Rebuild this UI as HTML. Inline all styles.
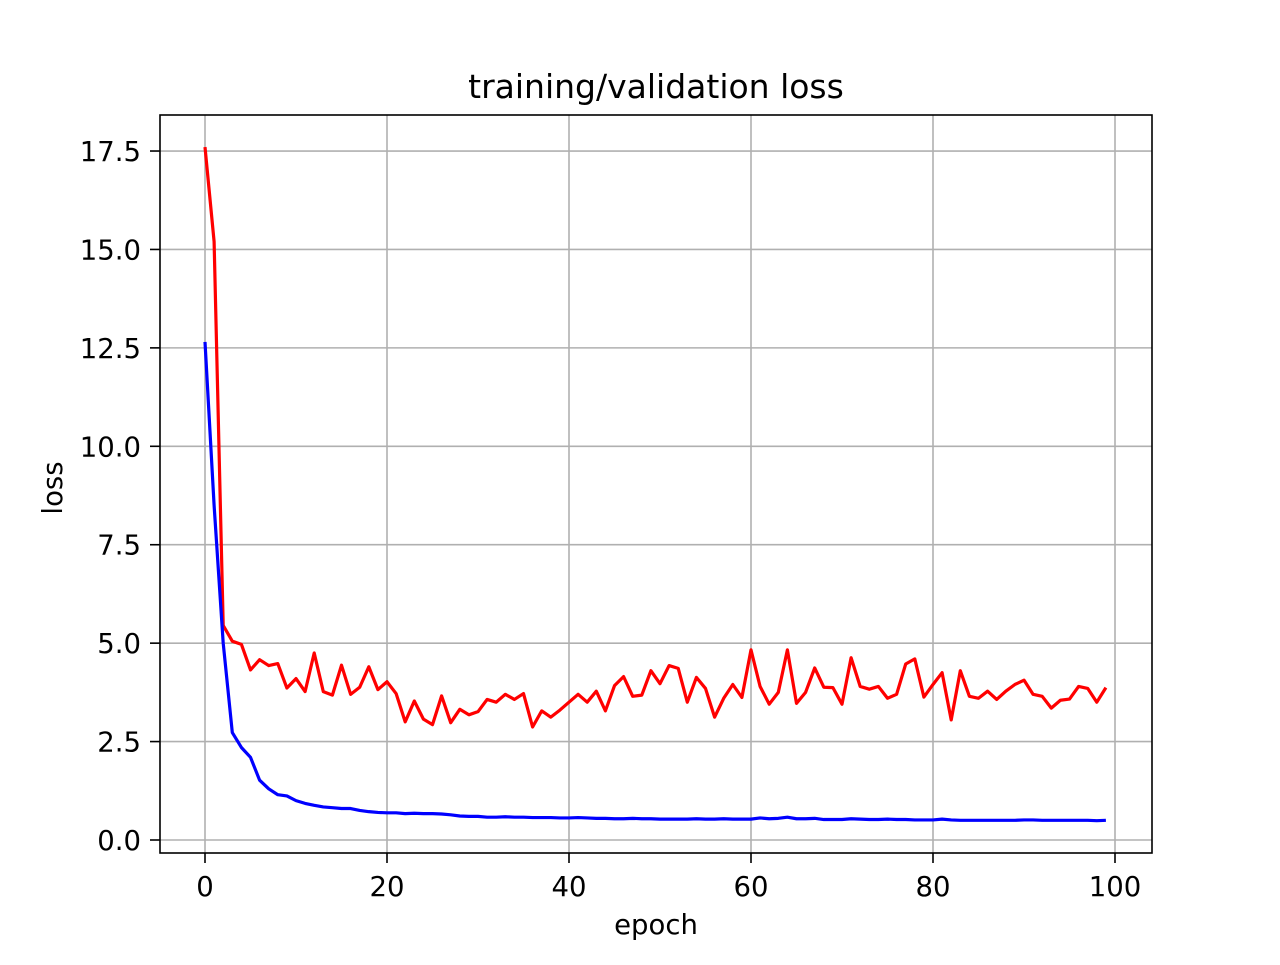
<!DOCTYPE html>
<html><head><meta charset="utf-8"><style>
body{margin:0;background:#fff;}
svg text{font-family:"DejaVu Sans","Liberation Sans",sans-serif;}
</style></head><body>
<svg id="chart" width="1280" height="960" viewBox="0 0 1280 960">
<rect width="1280" height="960" fill="#fff"/>
<g id="grid"></g>
<g id="series"></g>
<rect x="160" y="115" width="992" height="738" fill="none" stroke="#000" stroke-width="1.6"/>
<g id="ticks"></g>
<text x="656" y="98" font-size="33" text-anchor="middle">training/validation loss</text>
<text x="656" y="934" font-size="27.5" text-anchor="middle">epoch</text>
<text x="62" y="488" font-size="27.5" text-anchor="middle" transform="rotate(-90 62 488)">loss</text>
</svg>
<script>
const xTicks=[0,20,40,60,80,100];
const yTicks=[0,2.5,5,7.5,10,12.5,15,17.5];
const yTickLabels=["0.0","2.5","5.0","7.5","10.0","12.5","15.0","17.5"];
const valLoss=[17.6,15.2,5.45,5.05,4.97,4.32,4.58,4.43,4.48,3.86,4.1,3.77,4.75,3.77,3.68,4.44,3.7,3.88,4.4,3.82,4.02,3.72,3.0,3.53,3.07,2.93,3.66,2.98,3.32,3.18,3.26,3.57,3.5,3.7,3.57,3.72,2.87,3.28,3.12,3.3,3.5,3.7,3.5,3.78,3.28,3.92,4.15,3.65,3.68,4.3,3.97,4.43,4.36,3.5,4.13,3.85,3.12,3.6,3.95,3.62,4.83,3.9,3.45,3.75,4.83,3.47,3.75,4.37,3.88,3.87,3.45,4.63,3.9,3.83,3.9,3.6,3.7,4.47,4.6,3.63,3.95,4.25,3.05,4.3,3.65,3.6,3.78,3.57,3.78,3.95,4.06,3.7,3.65,3.35,3.55,3.58,3.9,3.85,3.5,3.87];
const trainLoss=[12.65,8.5,5.0,2.73,2.35,2.1,1.52,1.3,1.15,1.12,1.0,0.93,0.88,0.84,0.82,0.8,0.8,0.75,0.72,0.7,0.69,0.69,0.67,0.68,0.67,0.67,0.66,0.64,0.61,0.6,0.6,0.58,0.58,0.59,0.58,0.58,0.57,0.57,0.57,0.56,0.56,0.57,0.56,0.55,0.55,0.54,0.54,0.55,0.54,0.54,0.53,0.53,0.53,0.53,0.54,0.53,0.53,0.54,0.53,0.53,0.53,0.56,0.54,0.55,0.58,0.54,0.54,0.55,0.52,0.52,0.52,0.54,0.53,0.52,0.52,0.53,0.52,0.52,0.51,0.51,0.51,0.53,0.51,0.5,0.5,0.5,0.5,0.5,0.5,0.5,0.51,0.51,0.5,0.5,0.5,0.5,0.5,0.5,0.49,0.5];
const NS='http://www.w3.org/2000/svg';
const xs=v=>205+v*9.1;
const ys=v=>840-v*39.37;
function mk(tag,attrs,parent){const e=document.createElementNS(NS,tag);for(const k in attrs)e.setAttribute(k,attrs[k]);parent.appendChild(e);return e;}
const grid=document.getElementById('grid'),ticks=document.getElementById('ticks'),series=document.getElementById('series');
xTicks.forEach(t=>{
 const l=mk('line',{x1:xs(t),x2:xs(t),y1:115,y2:853,stroke:'#b0b0b0','stroke-width':1.6},grid);
 
 
 mk('line',{x1:xs(t),x2:xs(t),y1:853,y2:863,stroke:'#000','stroke-width':1.6},ticks);
 const tx=mk('text',{x:xs(t),y:896,'font-size':27.5,'text-anchor':'middle'},ticks);
 tx.textContent=t;
 
 
});
yTicks.forEach((t,i)=>{
 const l=mk('line',{x1:160,x2:1152,y1:ys(t),y2:ys(t),stroke:'#b0b0b0','stroke-width':1.6},grid);
 
 
 mk('line',{x1:150,x2:160,y1:ys(t),y2:ys(t),stroke:'#000','stroke-width':1.6},ticks);
 const tx=mk('text',{x:141,y:ys(t)+10,'font-size':27.5,'text-anchor':'end'},ticks);
 tx.textContent=yTickLabels[i];
 
 
});
function line(data,color,name){
 const p=mk('polyline',{points:data.map((v,i)=>xs(i)+','+ys(v)).join(' '),fill:'none',stroke:color,'stroke-width':3.2,'stroke-linejoin':'round'},series);
 
 
}
line(valLoss,'#ff0000','validation-loss-line');
line(trainLoss,'#0000ff','training-loss-line');
</script>
</body></html>
